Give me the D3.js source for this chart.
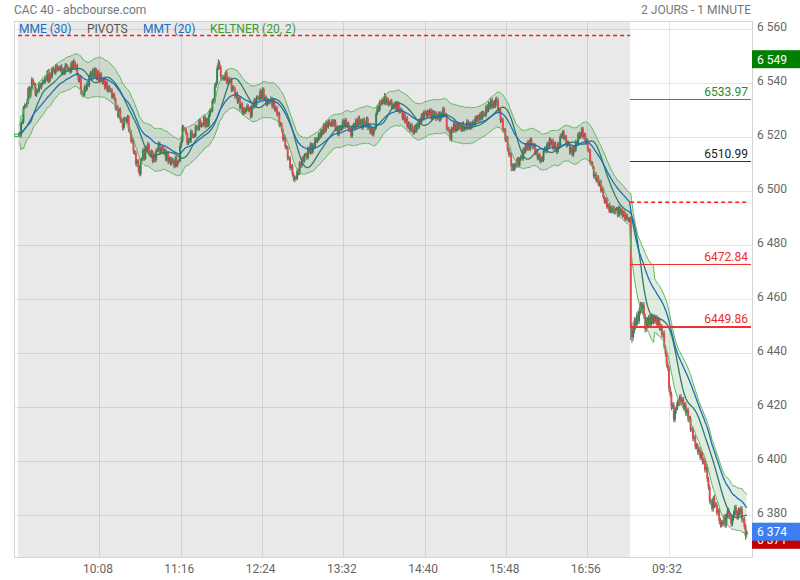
<!DOCTYPE html>
<html><head><meta charset="utf-8">
<script src="https://cdn.jsdelivr.net/npm/d3@7"></script>
<style>body{margin:0;background:#fff;} svg{display:block;font-family:Roboto, "DejaVu Sans", sans-serif;}</style>
</head><body>
<svg id="c" width="800" height="580"></svg>
<script>
// ---------------- DATA ----------------
const prevClose = 6520.8;
// one close per minute, day 1 (09:00 -> closing auction, 512 candles)
const closesDay1 = [
6521.4,6520.7,6525.2,6525.8,6531.2,6531.8,6531.8,6533.2,6538.3,6535.2,
6538.2,6541.5,6540.0,6539.2,6535.8,6537.6,6537.2,6539.6,6538.6,6539.8,
6540.9,6540.4,6542.0,6541.3,6544.6,6540.8,6543.3,6542.5,6545.6,6544.6,
6544.0,6546.8,6545.0,6545.9,6545.3,6546.1,6543.6,6545.4,6543.9,6546.8,
6546.1,6544.9,6545.7,6544.3,6547.6,6545.8,6548.0,6545.7,6546.6,6543.2,
6541.2,6542.3,6537.0,6536.2,6535.6,6538.6,6537.6,6540.1,6539.3,6542.8,
6543.9,6542.4,6545.2,6542.5,6545.2,6541.8,6544.3,6540.9,6543.6,6541.2,
6540.2,6541.5,6538.5,6540.5,6537.5,6538.6,6537.4,6537.6,6534.9,6536.0,
6534.4,6530.7,6531.2,6527.8,6530.4,6526.6,6526.3,6523.5,6527.1,6526.6,
6526.0,6527.8,6523.0,6522.2,6518.6,6519.1,6514.9,6514.4,6510.3,6511.5,
6508.9,6506.4,6511.4,6512.1,6515.4,6512.2,6516.3,6515.5,6517.6,6514.6,
6513.2,6514.8,6511.2,6513.7,6511.6,6515.3,6515.2,6517.9,6514.3,6515.8,
6516.5,6514.3,6515.2,6511.8,6514.6,6511.0,6512.3,6510.4,6511.9,6510.9,
6509.4,6512.3,6509.8,6511.2,6511.3,6516.9,6518.6,6523.9,6523.1,6523.0,
6521.4,6517.9,6519.2,6518.5,6522.2,6520.5,6520.8,6520.5,6524.1,6523.9,
6523.0,6526.3,6524.4,6524.9,6524.6,6527.6,6524.2,6526.6,6524.5,6528.0,
6530.1,6529.9,6533.7,6533.3,6538.9,6540.0,6545.6,6547.5,6546.1,6542.6,
6541.7,6542.3,6541.8,6544.2,6540.3,6541.9,6540.6,6541.4,6537.6,6538.8,
6537.9,6535.1,6536.2,6533.3,6534.6,6531.0,6532.3,6528.9,6530.6,6529.4,
6530.4,6531.8,6530.0,6530.7,6527.8,6531.6,6531.2,6533.9,6532.1,6534.8,
6534.9,6534.1,6537.2,6534.8,6537.9,6534.0,6535.0,6532.2,6533.9,6532.9,
6533.2,6534.5,6531.5,6533.5,6530.3,6531.1,6528.6,6529.0,6524.6,6525.0,
6522.9,6519.4,6520.2,6516.5,6516.4,6512.5,6512.5,6508.7,6509.6,6506.4,
6504.6,6505.3,6504.8,6507.7,6506.8,6510.6,6509.6,6512.4,6511.3,6513.5,
6513.7,6512.4,6516.0,6514.5,6517.4,6514.5,6517.3,6516.5,6519.6,6518.6,
6519.2,6521.3,6520.2,6522.7,6521.6,6524.6,6522.4,6525.4,6523.9,6526.0,
6525.1,6524.5,6526.2,6524.7,6525.9,6522.8,6523.8,6521.2,6523.9,6522.9,
6523.4,6526.1,6524.0,6526.5,6524.2,6525.1,6522.6,6523.4,6520.6,6523.8,
6524.7,6523.4,6526.4,6524.3,6527.2,6525.2,6526.3,6523.5,6526.7,6525.4,
6524.4,6527.1,6523.5,6524.5,6521.8,6523.3,6521.2,6522.9,6523.6,6528.8,
6530.9,6530.2,6533.2,6532.5,6533.9,6532.8,6535.3,6532.7,6534.3,6532.2,
6532.7,6533.5,6531.0,6532.2,6531.0,6532.9,6530.2,6532.7,6529.6,6530.5,
6529.7,6527.1,6528.8,6525.8,6527.2,6524.0,6525.3,6522.7,6524.6,6522.4,
6521.7,6524.1,6522.5,6524.9,6523.8,6526.5,6525.6,6528.4,6526.9,6529.5,
6529.1,6527.9,6529.7,6528.5,6530.2,6527.0,6529.4,6527.7,6529.3,6526.9,
6527.2,6529.1,6526.6,6528.9,6527.8,6530.6,6528.4,6528.4,6523.6,6523.0,
6522.4,6519.1,6523.2,6522.5,6525.4,6522.5,6524.8,6523.2,6524.9,6523.6,
6522.7,6525.3,6523.0,6523.9,6523.3,6526.1,6523.6,6525.2,6523.6,6525.0,
6525.9,6524.7,6527.4,6526.3,6527.9,6526.6,6528.8,6527.2,6529.3,6528.4,
6528.2,6531.5,6530.0,6532.5,6531.0,6533.9,6531.4,6532.9,6531.6,6534.2,
6533.7,6529.9,6530.2,6526.5,6526.8,6523.0,6523.0,6519.2,6520.1,6515.9,
6513.7,6514.1,6509.5,6509.7,6508.3,6510.1,6509.6,6512.2,6509.6,6512.0,
6512.9,6512.1,6515.7,6514.7,6517.4,6515.8,6518.3,6515.7,6519.3,6517.4,
6516.4,6517.3,6514.0,6515.0,6512.3,6513.6,6511.2,6512.4,6511.6,6515.0,
6516.1,6514.9,6517.7,6516.5,6519.2,6517.5,6518.8,6515.9,6517.9,6515.4,
6514.6,6517.8,6517.0,6520.5,6520.3,6522.1,6519.6,6520.4,6517.1,6518.2,
6517.4,6514.4,6516.2,6513.6,6516.4,6515.2,6518.3,6517.7,6521.3,6520.4,
6521.0,6523.3,6520.2,6521.2,6518.3,6519.1,6515.6,6515.4,6510.8,6510.5,
6509.1,6505.7,6506.6,6504.1,6505.4,6502.5,6503.8,6500.2,6501.1,6497.9,
6496.1,6497.3,6494.2,6495.2,6492.6,6494.1,6492.6,6494.2,6492.1,6493.4,
6493.7,6491.1,6494.2,6491.8,6493.2,6491.0,6492.3,6489.7,6491.3,6490.0,
6489.2,6490.0
];
// day 2 (09:00 -> 10:37)
const closesDay2 = [
6450.0,6446.0,6448.5,6452.0,6450.5,6454.0,6452.0,6455.5,6458.0,6456.5,
6458.0,6454.0,6449.0,6452.5,6451.0,6453.5,6450.5,6454.0,6452.0,6453.5,
6452.0,6453.5,6450.5,6452.5,6449.5,6450.0,6447.0,6447.5,6442.5,6440.0,
6436.0,6434.5,6427.0,6425.0,6420.5,6421.0,6415.5,6419.0,6420.0,6422.0,
6421.5,6424.0,6422.0,6423.0,6420.0,6421.0,6418.0,6419.0,6415.5,
6416.0,6412.0,6412.0,6408.5,6409.0,6405.5,6406.0,6403.5,6404.5,6401.5,
6403.0,6400.0,6400.5,6397.0,6398.0,6393.5,6390.5,6385.5,6385.0,6382.5,
6386.5,6384.0,6384.0,6381.0,6382.0,6378.0,6376.5,6377.5,6377.0,6379.5,
6376.5,6380.0,6382.0,6380.0,6379.5,6377.0,6379.0,6380.5,6383.0,6381.0,
6379.5,6382.0,6381.0,6382.5,6378.5,6378.5,6376.0,6373.0,6374.0
];
// upper / lower wick lengths (points) per candle
const wickHi = [
.4,.8,.6,1,.5,.9,.7,1.2,.6,.8, .5,.9,.4,.7,1,.6,.5,.8,.7,.4, .6,.5,.9,.7,.4,.8,.6,1,.5,.7,
.8,.4,.6,.9,.5,.7,1.1,.6,.4,.8, .6,.9,.5,.4,.7,.8,1.2,.6,.5,.9, .7,.5,.8,.6,.4,.9,.6,.7,1,.5,
.8,.6,.4,.7,.9,.5,.6,.8,.4,.7, .5,.8,.6,.4,.7,.5,.9,.6,.8,.5, .6,.4,.7,.9,.5,.8,1,.6,.5,.7,
.9,.6,.5,.8,.4,.7,.6,.5,.8,.6, .5,.7,.9,.6,.8,.5,.7,.6,.9,.5, .6,.8,.5,.7,.4,.6,.9,.7,.5,.8,
.7,.5,.6,.8,.6,.4,.7,.5,.8,.6, .6,.9,.7,.5,.8,1,1.3,.9,.7,.6, .8,.5,.7,.6,.9,.5,.6,.8,.7,.5,
.6,.7,.5,.8,.6,.9,.5,.7,.6,.8, .7,.9,.6,1,1.2,.8,1.1,1.5,.9,.7, .6,.8,.7,.5,.9,.6,.7,.5,.8,.6,
.5,.7,.6,.8,.5,.7,.6,.9,.5,.7, .6,.8,.5,.7,.9,.6,.5,.8,.6,.7, .8,.6,.9,.5,.7,.6,.8,.5,.7,.6,
.5,.7,.6,.8,.6,.5,.7,.6,.5,.8, .6,.5,.7,.6,.8,.5,.6,.7,.5,.6, .7,.6,.5,.8,.6,.7,.5,.6,.8,.7,
.6,.8,.7,.5,.9,.6,.7,.8,.6,.5, .7,.6,.8,.7,.5,.8,.6,.9,.7,.6, .8,.5,.7,.6,.9,.7,.5,.8,.6,.7,
.6,.9,.5,.8,.7,.6,.8,.5,.7,.9, .7,.6,.8,.5,.7,.9,.6,.7,.5,.8, .5,.7,.6,.9,.6,.8,.5,.7,.9,.8,
.9,1,.8,.7,.9,.6,1.2,.8,.7,.6, .7,.6,.8,.5,.7,.6,.5,.8,.6,.7, .6,.8,.5,.7,.6,.9,.7,.5,.6,.8,
.7,.5,.8,.6,.7,.5,.8,.6,.9,.7, .6,.8,.7,.5,.7,.6,.9,.7,.6,.5, .7,.6,.5,.8,.6,.9,.6,.5,.7,.6,
.8,.7,.9,.6,.8,.5,.7,.8,.6,.7, .6,.5,.7,.6,.8,.7,.5,.6,.7,.8, .7,.9,.6,.8,.5,.7,.6,.9,.7,.6,
.8,.6,.7,.9,.6,.8,.7,.6,.9,.7, 1,.8,.6,.5,.7,.6,.5,.6,.7,.5, .6,.7,.5,.6,.8,.6,.7,.5,.6,.7,
.7,.8,.6,.7,.5,.8,.9,.7,.8,.6, .5,.7,.6,.8,.6,.5,.7,.6,.8,.7, .6,.8,.7,.6,.9,.7,.6,.8,.5,.7,
.8,.6,.7,1,.9,.6,.7,.5,.6,.7, .6,.7,.5,.6,.8,.7,.9,.8,.7,.9, .8,.7,.6,.8,.5,.6,.5,.6,.5,.6,
.7,.5,.6,.5,.7,.6,.5,.6,.7,.5, .6,.5,.7,.6,.5,.6,.7,.5,.6,.5, .6,.5,.7,.5,.6,.5,.6,.7,.5,.6,
.5,.6,.8,1.5,1.2,1.5,1,1.2,1.8,1.5, 1.2,1,.9,1.1,.8,1,.9,.8,1,.9, .8,.9,1,.8,.7,.9,.8,1,.9,.8,
1,.8,.9,1.2,.8,1,.9,.8,1.1,.9, .8,1,.9,.8,1,.7,.9,.8,1,.9, .9,.8,1,.7,.9,.8,1,.9,.8,1,
.8,.9,.7,1,.8,1.2,.9,.8,1,.9, 1,.8,1.2,.9,1,.8,.9,1.1,.8,1, .9,1,.8,1.1,.9,.8,1,.9,1.2,.8,
1,.9,1.1,.8,1,.9,.8,1,.9,.8
];
const wickLo = [
.6,.5,.8,.4,.7,.6,.9,.5,.8,.6, .7,.4,.6,.9,.5,.8,.6,.7,.5,.9, .5,.7,.6,.4,.8,.6,.5,.9,.7,.5,
.6,.8,.5,.7,.6,.9,.5,.6,.8,.7, .5,.6,.8,.7,.5,.6,.4,.7,.9,.6, .8,.9,1.2,1,.7,.6,.8,.5,.6,.7,
.5,.7,.6,.8,.5,.7,.6,.5,.8,.6, .7,.5,.8,.6,.7,.9,.5,.8,.6,.7, .8,.7,.9,.6,.8,1.1,.9,1,.7,.6,
.7,.8,.9,1,.8,.9,1,.8,.9,1.2, 1.8,.5,.8,.6,.7,.9,.5,.6,.8,.7, .6,.8,.7,.5,.9,.6,.7,.5,.8,.6,
.5,.7,.8,.6,.7,.9,.6,.8,.7,.5, .8,.6,.7,.9,.6,.5,.7,.6,.8,.7, .6,.8,.7,.5,.6,.7,.8,.6,.5,.7,
.7,.5,.6,.8,.7,.6,.8,.5,.7,.6, .5,.7,.6,.5,.7,.6,.5,.6,.8,.9, .7,.6,.8,.7,.6,.8,.7,.6,.8,.7,
.6,.8,.7,.9,.6,.8,.7,.6,.9,.7, .8,.6,.7,.5,.8,.6,.7,.6,.5,.7, .6,.7,.5,.8,.6,.7,.5,.6,.7,.6,
.7,.6,.8,.7,.6,.8,.7,.9,.8,.7, .9,.8,1,.9,.8,1,.9,.8,1,.9, .8,1.2,.7,.6,.8,.7,.6,.8,.5,.7,
.6,.7,.5,.6,.8,.7,.6,.5,.7,.6, .7,.6,.8,.5,.7,.6,.8,.7,.5,.6, .7,.5,.6,.8,.7,.5,.6,.7,.8,.6,
.5,.7,.6,.8,.6,.7,.5,.6,.8,.7, .6,.8,.7,.6,.5,.7,.8,.6,.7,.6, .7,.6,.8,.7,.6,.8,.7,.9,.6,.7,
.6,.8,.7,.6,.7,.5,.6,.8,.7,.6, .7,.6,.8,.7,.6,.8,.7,.6,.8,.7, .6,.7,.8,.7,.6,.7,.8,.6,.7,.6,
.7,.6,.7,.8,.6,.7,.6,.8,.7,.6, .5,.7,.6,.8,.7,.6,.5,.7,.6,.8, .7,.6,.8,.7,.6,.7,.8,.9,1,.8,
.9,.3,.7,.6,.8,.7,.6,.8,.7,.6, .7,.6,.8,.7,.6,.7,.6,.8,.7,.6, .7,.8,.6,.7,.6,.8,.7,.6,.8,.7,
.6,.7,.8,.6,.7,.6,.8,.7,.6,.7, .8,.9,1,1.1,.9,1,.9,1,.9,1.1, 1,.9,2,1.8,.8,.7,.6,.8,.7,.6,
.7,.6,.8,.7,.6,.7,.8,.6,.7,.6, .7,.8,.6,.7,.8,.6,.7,.8,.6,.7, .6,.7,.8,.6,.7,.6,.8,.7,.6,.7,
.7,.6,.8,.7,.6,.8,.7,.6,.8,.7, .6,.8,.7,.6,.8,.7,.6,.8,.9,1, .9,1,.8,.9,1,.9,.8,1,.9,1,
.8,.9,1,.8,.7,.6,.7,.6,.7,.6, .6,.7,.6,.7,.6,.6,.7,.6,.7,.6, .6,.7,.6,.7,.6,.7,.6,.7,.6,.7,
.6,.7,5,2,1.2,1,1.5,1,1.2,1, 1.1,1.5,2,1,1.2,1,1.1,.9,1,1.1, 1,1.2,.9,1,1.1,.9,1,1.2,1,1.2,
1,1.2,1.1,1,1.2,1,1.5,1,.9,1, 1.2,1,.9,1,1.1,.9,1,1,1.1,1, 1,1.1,1,.9,1,1.1,1,.9,1,1.1,
1,.9,1.2,1,1.1,1,1.2,1,1.1,1.2, 1,1.1,1.2,1,.9,1,1.1,1,.9,1, 1,1.1,.9,1,1.2,1,1.1,1,.9,1.1,
1,1.1,1,.9,1.1,1,1.2,1,2,1
];
const xTickIndex  = [68, 136, 204, 272, 340, 408, 476, 544];
const xTickLabels = ["10:08","11:16","12:24","13:32","14:40","15:48","16:56","09:32"];
const yTicks = [6380, 6400, 6420, 6440, 6460, 6480, 6500, 6520, 6540, 6560];
const pivotDay1Dashed = [6557.8];
const pivotDay2Dashed = [6496.0];
const pivotDay2Values = [6533.97, 6510.99, 6472.84, 6449.86];
const pivotDay2Kinds  = ["R", "P", "S", "S2"];
const highBadge = 6549, lowBadge = 6371, lastBadge = 6374;
const legendItems = ["MME (30)", "PIVOTS", "MMT (20)", "KELTNER (20, 2)"];

// ---------------- BUILD ----------------
const closes = closesDay1.concat(closesDay2);
const N = closes.length;
const day2Start = closesDay1.length;
const opens = closes.map((c, i) => i === 0 ? prevClose : closes[i - 1]);
const highs = closes.map((c, i) => Math.max(opens[i], c) + wickHi[i]);
const lows  = closes.map((c, i) => Math.min(opens[i], c) - wickLo[i]);

function ema(a, n) { const k = 2 / (n + 1); let p = a[0]; return a.map((v, i) => (p = i === 0 ? v : v * k + p * (1 - k))); }
function sma(a, n) { return a.map((v, i) => d3.mean(a.slice(Math.max(0, i - n + 1), i + 1))); }
const mme30 = ema(closes, 30);
const mmt20 = sma(sma(closes, 10), 11);
const tr = closes.map((c, i) => i === 0 ? highs[0] - lows[0] :
  Math.max(highs[i] - lows[i], Math.abs(highs[i] - closes[i - 1]), Math.abs(lows[i] - closes[i - 1])));
const atr = sma(tr, 20);
const kMid = ema(closes, 20);
const kUp = kMid.map((m, i) => m + 2 * atr[i]);
const kLo = kMid.map((m, i) => m - 2 * atr[i]);

const L = 15, R = 752, T = 21, B = 557;
const x = d3.scaleLinear().domain([-3.1, 613.4]).range([L, R]);
const y = d3.scaleLinear().domain([6380, 6560]).range([515.5, 29.5]);
const fmt = d3.formatLocale({decimal: ",", thousands: " ", grouping: [3], currency: ["", ""]}).format(",");

const svg = d3.select("#c");
svg.append("rect").attr("width", 800).attr("height", 580).attr("fill", "#fff");
// day 1 shaded session
svg.append("rect").attr("x", x(-0.5)).attr("y", T).attr("width", x(day2Start - 0.5) - x(-0.5)).attr("height", B - T).attr("fill", "#e9e9e9");

// grid
svg.append("g").selectAll("line").data(yTicks).join("line")
  .attr("x1", L).attr("x2", R).attr("y1", d => y(d)).attr("y2", d => y(d))
  .attr("stroke", "rgba(0,0,0,0.1)").attr("stroke-width", 1).attr("shape-rendering", "crispEdges");
svg.append("g").selectAll("line").data(xTickIndex).join("line")
  .attr("x1", d => x(d)).attr("x2", d => x(d)).attr("y1", T).attr("y2", B)
  .attr("stroke", "rgba(30,80,30,0.13)").attr("stroke-width", 1).attr("shape-rendering", "crispEdges");

// frame
svg.append("rect").attr("x", L - 0.5).attr("y", T + 0.5).attr("width", R - L + 0.5).attr("height", B - T - 0.5)
  .attr("fill", "none").attr("stroke", "#d4d4d4").attr("shape-rendering", "crispEdges");

const idx = d3.range(N);
const g = svg.append("g");
// Keltner fill
g.append("path").datum(idx)
  .attr("d", d3.area().x(i => x(i)).y0(i => y(kLo[i])).y1(i => y(kUp[i])))
  .attr("fill", "rgba(40,120,40,0.14)");

// candles
const cg = g.append("g");
cg.selectAll("line").data(idx).join("line")
  .attr("x1", i => x(i)).attr("x2", i => x(i)).attr("y1", i => y(highs[i])).attr("y2", i => y(lows[i]))
  .attr("stroke", "#555").attr("stroke-width", 0.9);
cg.selectAll("rect").data(idx).join("rect")
  .attr("x", i => x(i) - 0.95).attr("width", 1.9)
  .attr("y", i => y(Math.max(opens[i], closes[i])))
  .attr("height", i => Math.max(0.8, Math.abs(y(opens[i]) - y(closes[i]))))
  .attr("fill", i => closes[i] >= opens[i] ? "#2f8550" : "#e44a4a");

// Keltner bands
[kUp, kLo].forEach(arr => g.append("path").datum(idx)
  .attr("d", d3.line().x(i => x(i)).y(i => y(arr[i])))
  .attr("fill", "none").attr("stroke", "#5cb85c").attr("stroke-width", 1));
// moving averages
g.append("path").datum(idx).attr("d", d3.line().x(i => x(i)).y(i => y(mmt20[i])))
  .attr("fill", "none").attr("stroke", "#2a7d66").attr("stroke-width", 1.3);
g.append("path").datum(idx).attr("d", d3.line().x(i => x(i)).y(i => y(mme30[i])))
  .attr("fill", "none").attr("stroke", "#1f6fb2").attr("stroke-width", 1.3);

// previous close marker
svg.append("rect").attr("x", 14.5).attr("y", y(prevClose) - 1.2).attr("width", 5).attr("height", 2.4)
  .attr("fill", "none").attr("stroke", "#4caf50").attr("stroke-width", 1);

// pivots
const x1d2 = x(day2Start - 0.5), x2d2 = R - 1;
const pivDash = svg.append("g");
pivDash.append("g").selectAll("path").data(pivotDay1Dashed).join("path")
  .attr("d", d => `M${x(-0.5)},${y(d)}H${x(day2Start - 0.5)}`)
  .style("stroke", "#ff1a1a").style("stroke-width", "1.4px").style("stroke-dasharray", "4,3").style("fill", "none");
pivDash.append("g").selectAll("path").data(pivotDay2Dashed).join("path")
  .attr("d", d => `M${x1d2},${y(d)}H${x2d2 - 3}`)
  .style("stroke", "#ff1a1a").style("stroke-width", "1.4px").style("stroke-dasharray", "4,3").style("fill", "none");
const pivColor = k => k === "R" ? "#3b8f3b" : k === "P" ? "#333333" : "#ee3333";
const pg = svg.append("g");
pg.selectAll("line").data(pivotDay2Values).join("line")
  .attr("x1", x1d2).attr("x2", x2d2).attr("y1", d => y(d)).attr("y2", d => y(d))
  .attr("stroke", (d, i) => pivColor(pivotDay2Kinds[i]))
  .attr("stroke-width", (d, i) => pivotDay2Kinds[i] === "S2" ? 2 : 1).attr("shape-rendering", "crispEdges");
pg.selectAll("text").data(pivotDay2Values).join("text")
  .attr("x", 748).attr("y", d => y(d) - 3.5).attr("text-anchor", "end")
  .attr("font-size", 12).attr("fill", (d, i) => pivotDay2Kinds[i] === "R" ? "#2a8a2a" : pivotDay2Kinds[i] === "P" ? "#222" : "#ee2a2a")
  .text(d => d.toFixed(2));

// axes
const xAxis = d3.axisBottom(x).tickValues(xTickIndex).tickFormat((d, i) => xTickLabels[i]).tickSize(0).tickPadding(7);
const xg = svg.append("g").attr("transform", `translate(-2.5,${B})`).call(xAxis);
xg.select(".domain").remove();
xg.selectAll("text").attr("font-size", 12).attr("fill", "#666").attr("font-family", "Roboto, sans-serif");

const yAxis = d3.axisRight(y).tickValues(yTicks).tickFormat(fmt).tickSize(0).tickPadding(5);
const yg = svg.append("g").attr("transform", `translate(${R},-3)`).call(yAxis);
yg.select(".domain").remove();
yg.selectAll("text").attr("font-size", 12).attr("fill", "#666").attr("font-family", "Roboto, sans-serif");

// price badges
function badge(v, color) {
  const bg = svg.append("g");
  bg.append("rect").attr("x", R).attr("y", y(v) - 9).attr("width", 48).attr("height", 18).attr("fill", color);
  bg.append("text").attr("x", R + 5).attr("y", y(v) + 4.5).attr("font-size", 12).attr("fill", "#fff").text(fmt(v));
}
badge(highBadge, "#008000");
badge(lowBadge, "#c40000");
badge(lastBadge, "#3d7ff0");

// titles & legend
svg.append("text").attr("x", 14).attr("y", 14).attr("font-size", 12).attr("fill", "#777").text("CAC 40 - abcbourse.com");
svg.append("text").attr("x", 751).attr("y", 14).attr("text-anchor", "end").attr("font-size", 12).attr("fill", "#777").text("2 JOURS - 1 MINUTE");
const legX = [19, 87, 143, 210];
const legC = ["#1a6fc4", "#555", "#1a6fc4", "#3a9a3a"];
svg.append("g").selectAll("text").data(legendItems).join("text")
  .attr("x", (d, i) => legX[i]).attr("y", 33).attr("font-size", 12).attr("fill", (d, i) => legC[i]).text(d => d);
</script>
</body></html>
